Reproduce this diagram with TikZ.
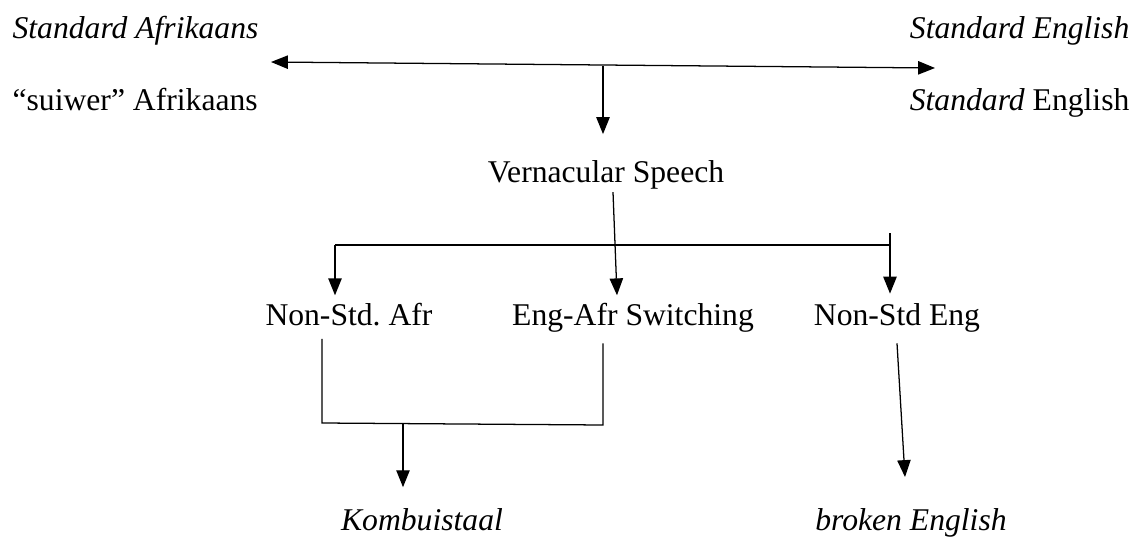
\documentclass[tikz,border=0pt]{standalone}
\usepackage{fontspec}
\setmainfont{Liberation Serif}
\usetikzlibrary{arrows.meta, positioning}
\tikzstyle{lang} = [inner xsep=0pt, inner ysep=2pt, font=\fontsize{22.5}{27}\selectfont]
\tikzstyle{arrow} = [-{Triangle[length=12pt, width=9.5pt]}]
\tikzstyle{twoway} = [{Triangle[length=12pt, width=9.5pt]}-{Triangle[length=12pt, width=9.5pt]}]

\begin{document}
\frenchspacing
\begin{tikzpicture}[x=0.025cm, y=-0.025cm, line width=0.9pt]
    \useasboundingbox (0,0) rectangle (1139,540);

    % the two standards
    \node (stdafr) [lang, anchor=base west] at (12,38) {\textit{Standard Afrikaans}};
    \node (stdeng) [lang, anchor=base east] at (1130,38) {\textit{Standard English}};
    \node (suiwer) [lang, anchor=base west] at (12,110) {“suiwer” Afrikaans};
    \node (stdengb) [lang, anchor=base east] at (1130,110) {\textit{Standard} English};

    \coordinate (afrend) at (271,62);
    \coordinate (engend) at (935,68);
    \coordinate (drop) at (603,66);
    \draw [twoway] (afrend) -- (engend);

    \node (vern) [lang, anchor=base] at (606,182) {Vernacular Speech};
    \draw [arrow, shorten >=16pt] (drop) -- (drop |- vern.north);

    % split into the three varieties
    \coordinate (barl) at (335,245);
    \coordinate (barr) at (890,245);
    \draw (barl) -- (barr);

    \node (nonafr) [lang, anchor=base] at (349,325) {Non-Std. Afr};
    \node (switch) [lang, anchor=base] at (633,325) {Eng-Afr Switching};
    \node (noneng) [lang, anchor=base] at (897,325) {Non-Std Eng};

    \draw [arrow] ([xshift=0.175cm]vern.south) -- ([xshift=-0.4cm, yshift=0.1cm]switch.north);
    \draw [arrow] (barl) -- ([yshift=0.1cm]barl |- nonafr.north);
    \draw [arrow] ([yshift=0.3cm]barr) -- ([yshift=0.15cm]barr |- noneng.north);

    % bottom row
    \coordinate (kl) at (322,423);
    \coordinate (kr) at (603,425);
    \coordinate (kdrop) at (403,423);
    \draw ([yshift=-0.25cm]nonafr.south -| kl) -- (kl) -- (kr) -- ([yshift=-0.2cm]kr |- switch.south);

    \node (kombuis) [lang, anchor=base] at (422,530) {\textit{Kombuistaal}};
    \node (broken) [lang, anchor=base] at (911,530) {\textit{broken English}};

    \draw [arrow, shorten >=12.4pt] (kdrop) -- (kdrop |- kombuis.north);
    \draw [arrow] ([yshift=-0.2cm]noneng.south) -- ([xshift=-0.15cm, yshift=0.69cm]broken.north);

\end{tikzpicture}
\end{document}
